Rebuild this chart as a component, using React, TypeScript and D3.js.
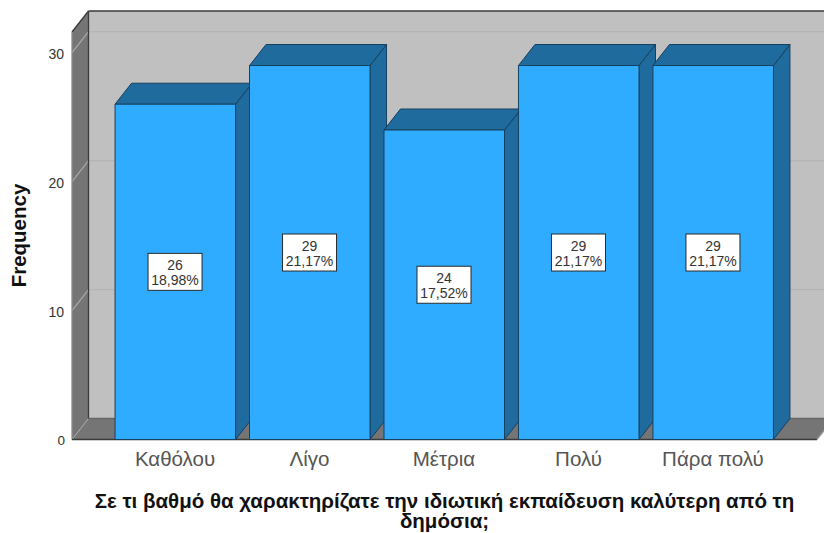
import React from 'react';
import * as d3 from 'd3';

const categories = ['Καθόλου', 'Λίγο', 'Μέτρια', 'Πολύ', 'Πάρα πολύ'];
const counts = [26, 29, 24, 29, 29];
const percents = ['18,98%', '21,17%', '17,52%', '21,17%', '21,17%'];
const yTicks = [0, 10, 20, 30];
const yLabel = 'Frequency';
const xTitle = ['Σε τι βαθμό θα χαρακτηρίζατε την ιδιωτική εκπαίδευση καλύτερη από τη', 'δημόσια;'];

const width = 824, height = 533;
const left = 72, right = 817, bottom = 439.5, top = 32;
const depthX = 16.5, depthY = 21;
const font = 'Liberation Sans, Arial, sans-serif';

const xScale = d3.scaleBand<string>()
  .domain(categories)
  .range([left, right])
  .paddingInner(0.1)
  .paddingOuter(0.32);

const yScale = d3.scaleLinear()
  .domain([0, 31.6])
  .range([bottom, top]);

const poly = (pts: number[][]) => {
  const line = d3.line();
  return line(pts as [number, number][]) + 'Z';
};

const App = () => {
  const backRight = right + depthX;
  return <svg width={width} height={height} style={{ position: 'absolute', left: 0, top: 0 }} fontFamily={font}>
    {/* back wall */}
    <rect x={left + depthX} y={top - depthY} width={backRight - left - depthX} height={bottom - top} fill='#c0c0c0' />
    {/* left wall and floor */}
    <path d={poly([[left, top], [left + depthX, top - depthY], [left + depthX, bottom - depthY], [left, bottom]])} fill='#757575' />
    <path d={poly([[left, bottom], [left + depthX, bottom - depthY], [backRight, bottom - depthY], [right, bottom]])} fill='#757575' />
    {/* grid */}
    {yTicks.filter(t => t > 0).map(t => <g key={t} stroke='#b4b4b4' strokeWidth={1.3} fill='none'>
      <line x1={left + depthX} x2={backRight} y1={yScale(t) - depthY} y2={yScale(t) - depthY} />
      <line x1={left} x2={left + depthX} y1={yScale(t)} y2={yScale(t) - depthY} stroke='#a8a8a8' />
    </g>)}
    <line x1={left} x2={left + depthX} y1={bottom} y2={bottom - depthY} stroke='#a8a8a8' strokeWidth={1} />
    {/* frame */}
    <g stroke='#3a3a3a' strokeWidth={1.3} fill='none'>
      <line x1={left + depthX} x2={backRight} y1={top - depthY} y2={top - depthY} />
      <line x1={left + depthX} x2={left + depthX} y1={top - depthY} y2={bottom - depthY} />
      <line x1={left} x2={left + depthX} y1={top} y2={top - depthY} />
      <line x1={left} x2={left} y1={top} y2={bottom} stroke='#8c8c8c' />
      <line x1={left + depthX} x2={backRight} y1={bottom - depthY} y2={bottom - depthY} stroke='#666' />
      <line x1={left} x2={right} y1={bottom} y2={bottom} />
      <line x1={right} x2={backRight} y1={bottom} y2={bottom - depthY} stroke='#999' />
    </g>
    {/* bars */}
    {categories.map((c, i) => {
      const x0 = xScale(c)!;
      const x1 = x0 + xScale.bandwidth() - 0.5;
      const y = yScale(counts[i]);
      return <g key={c} stroke='#17405f' strokeWidth={1} strokeLinejoin='round'>
        <path d={poly([[x1, y], [x1 + depthX, y - depthY], [x1 + depthX, bottom - depthY], [x1, bottom]])} fill='#1f6b9e' />
        <path d={poly([[x0, y], [x0 + depthX, y - depthY], [x1 + depthX, y - depthY], [x1, y]])} fill='#1f6b9e' />
        <rect x={x0} y={y} width={x1 - x0} height={bottom - y} fill='#2fabff' />
      </g>;
    })}
    {/* labels on bars */}
    {categories.map((c, i) => {
      const cx = xScale(c)! + xScale.bandwidth() / 2 - 0.5;
      const cy = (yScale(counts[i]) + bottom) / 2;
      return <g key={c}>
        <rect x={cx - 27} y={cy - 18.5} width={54} height={37} fill='#fff' stroke='#2b2b2b' strokeWidth={1} />
        <text x={cx} y={cy - 1.5} textAnchor='middle' fontSize={14} fill='#333'>{counts[i]}</text>
        <text x={cx} y={cy + 13} textAnchor='middle' fontSize={14} fill='#333'>{percents[i]}</text>
      </g>;
    })}
    {/* axes */}
    {yTicks.map(t => <text key={t} x={t === 0 ? 65 : 64} y={yScale(t) + (t === 0 ? 5 : 6)} textAnchor='end' fontSize={t === 0 ? 13.5 : 14} fill='#333'>{t}</text>)}
    {categories.map(c => <text key={c} x={xScale(c)! + xScale.bandwidth() / 2 - 0.5} y={466} textAnchor='middle' fontSize={20.5} fill='#555'>{c}</text>)}
    <text transform='translate(26,235.5) rotate(-90)' textAnchor='middle' fontSize={20.5} fontWeight='bold' fill='#111'>{yLabel}</text>
    <text textAnchor='middle' fontSize={20.5} fontWeight='bold' fill='#111'>
      {xTitle.map((t, i) => <tspan key={i} x={444.5} y={508 + i * 20}>{t}</tspan>)}
    </text>
  </svg>;
};

export default App;
